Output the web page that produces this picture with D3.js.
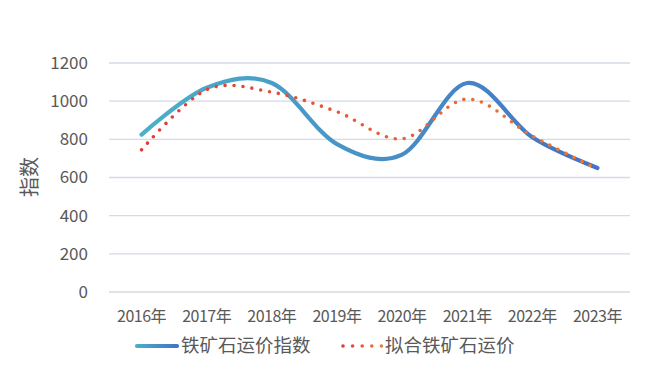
<!DOCTYPE html>
<html>
<head>
<meta charset="utf-8">
<script src="https://cdn.jsdelivr.net/npm/d3@7"></script>
<style>
  body { margin: 0; background: #fff; }
  text { font-family: "Noto Sans CJK SC", "Noto Sans", sans-serif; fill: #595959; }
</style>
</head>
<body>
<div id="chart"></div>
<script>
const years = ["2016年", "2017年", "2018年", "2019年", "2020年", "2021年", "2022年", "2023年"];
const indexValues = [825, 1070, 1095, 775, 720, 1095, 811, 650];
const fittedValues = [745, 1060, 1047, 945, 803, 1011, 818, 643];
const yTicks = [0, 200, 400, 600, 800, 1000, 1200];
const seriesNames = ["铁矿石运价指数", "拟合铁矿石运价"];

const W = 649, H = 377;
const svg = d3.select("#chart").append("svg")
  .attr("width", W)
  .attr("height", H);

const x = d3.scaleBand().domain(years).range([109, 630]).padding(0);
const y = d3.scaleLinear().domain([0, 1200]).range([292, 63]);
const cx = d => x(d) + x.bandwidth() / 2;

const defs = svg.append("defs");
function gradient(id, x1, x2, c1, c2) {
  const g = defs.append("linearGradient")
    .attr("id", id)
    .attr("gradientUnits", "userSpaceOnUse")
    .attr("x1", x1).attr("x2", x2)
    .attr("y1", 0).attr("y2", 0);
  g.append("stop").attr("offset", "0%").attr("stop-color", c1);
  g.append("stop").attr("offset", "100%").attr("stop-color", c2);
}
gradient("solidGrad", cx(years[0]), cx(years[years.length - 1]), "#4bb0c8", "#4472c4");
gradient("dotGrad", cx(years[0]), cx(years[years.length - 1]), "#e0393a", "#ed7d31");
gradient("solidLeg", 135, 178, "#4bb0c8", "#4472c4");
gradient("dotLeg", 343, 382, "#e0393a", "#ed7d31");

// gridlines
svg.append("g")
  .selectAll("line")
  .data(yTicks)
  .join("line")
  .attr("x1", 109)
  .attr("x2", 630)
  .attr("y1", d => y(d))
  .attr("y2", d => y(d))
  .attr("stroke", d => d === 0 ? "#d9d9d9" : "#d3dae8")
  .attr("stroke-width", 1.3);

// y labels
svg.append("g")
  .selectAll("text")
  .data(yTicks)
  .join("text")
  .attr("x", 88)
  .attr("y", d => y(d))
  .attr("dy", "0.35em")
  .attr("text-anchor", "end")
  .style("font-size", "17px")
  .text(d => d);

// x labels
svg.append("g")
  .selectAll("text")
  .data(years)
  .join("text")
  .attr("x", d => cx(d))
  .attr("y", 316)
  .attr("dy", "0.35em")
  .attr("text-anchor", "middle")
  .style("font-size", "16px")
  .style("letter-spacing", "-0.5px")
  .text(d => d);

// y title
svg.append("text")
  .attr("transform", "translate(30,177) rotate(-90)")
  .attr("text-anchor", "middle")
  .attr("dy", "0.35em")
  .style("font-size", "20px")
  .text("指数");

const line = d3.line()
  .x((d, i) => cx(years[i]))
  .y(d => y(d))
  .curve(d3.curveCatmullRom.alpha(0));

svg.append("path")
  .datum(indexValues)
  .attr("fill", "none")
  .attr("stroke", "url(#solidGrad)")
  .attr("stroke-width", 4.2)
  .attr("stroke-linecap", "round")
  .attr("d", line);

svg.append("path")
  .datum(fittedValues)
  .attr("fill", "none")
  .attr("stroke", "url(#dotGrad)")
  .attr("stroke-width", 3.6)
  .attr("stroke-linecap", "round")
  .attr("stroke-dasharray", "0 9")
  .attr("d", line);

// legend
const legY = 346;
svg.append("line")
  .attr("x1", 137).attr("x2", 177)
  .attr("y1", legY).attr("y2", legY)
  .attr("stroke", "url(#solidLeg)")
  .attr("stroke-width", 4.2)
  .attr("stroke-linecap", "round");
svg.append("text")
  .attr("x", 181).attr("y", legY)
  .attr("dy", "0.35em")
  .style("font-size", "18.5px")
  .text(seriesNames[0]);

svg.append("line")
  .attr("x1", 343).attr("x2", 382)
  .attr("y1", legY).attr("y2", legY)
  .attr("stroke", "url(#dotLeg)")
  .attr("stroke-width", 3.6)
  .attr("stroke-linecap", "round")
  .attr("stroke-dasharray", "0 9.6");
svg.append("text")
  .attr("x", 385).attr("y", legY)
  .attr("dy", "0.35em")
  .style("font-size", "18.5px")
  .text(seriesNames[1]);
</script>
</body>
</html>
